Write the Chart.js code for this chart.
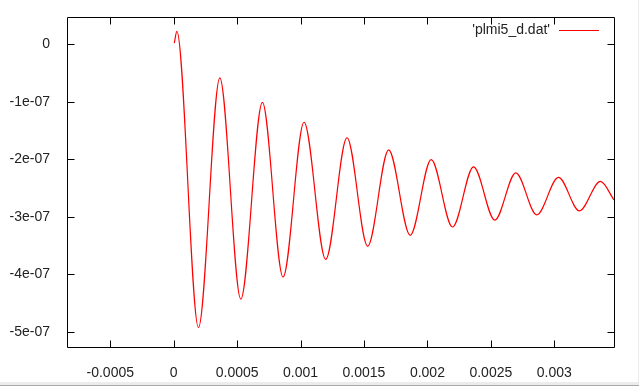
<!DOCTYPE html>
<html>
<head>
<meta charset="utf-8">
<script src="https://cdn.jsdelivr.net/npm/chart.js@4/dist/chart.umd.min.js"></script>
<style>
  html, body { margin: 0; padding: 0; background: #ececec; }
  #wrap { width: 638px; height: 382px; background: #fff; overflow: hidden; }
  #edge { width: 639px; height: 3px; background: #ececec; border-bottom: 1px solid #a9a9a9; }
  canvas { display: block; }
</style>
</head>
<body>
<div id="wrap"><canvas id="chart" width="638" height="383"></canvas></div>
<div id="edge"></div>
<script>
// extrema (time in s, value)
const xs = [0.000005, 0.000025, 0.0001953, 0.0003638, 0.0005291, 0.0006992, 0.0008622,
  0.0010276, 0.0011984, 0.0013661, 0.0015291, 0.0016945, 0.0018646, 0.0020299,
  0.0021984, 0.0023638, 0.0025315, 0.0026969, 0.0028622, 0.0030331, 0.0031984,
  0.0033638, 0.0034709];
const ys = [0.02e-7, 0.224e-7, -4.926e-7, -0.586e-7, -4.431e-7, -1.012e-7, -4.047e-7,
  -1.357e-7, -3.741e-7, -1.626e-7, -3.512e-7, -1.836e-7, -3.322e-7, -2.005e-7,
  -3.178e-7, -2.133e-7, -3.057e-7, -2.236e-7, -2.966e-7, -2.316e-7, -2.897e-7,
  -2.384e-7, -2.707e-7];

const xTickVals = [-0.0005, 0, 0.0005, 0.001, 0.0015, 0.002, 0.0025, 0.003];
const xTickLabels = ["-0.0005", "0", "0.0005", "0.001", "0.0015", "0.002", "0.0025", "0.003"];
const yTickVals = [0, -1e-7, -2e-7, -3e-7, -4e-7, -5e-7];
const yTickLabels = ["0", "-1e-07", "-2e-07", "-3e-07", "-4e-07", "-5e-07"];
const seriesName = "'plmi5_d.dat'";

const FONT = { family: "'Liberation Sans', Arial, sans-serif", size: 14 };

// gnuplot style frame with inward ticks on all four sides + key
const framePlugin = {
  id: "frame",
  afterDraw(chart) {
    const ctx = chart.ctx;
    const a = chart.chartArea;
    const sx = chart.scales.x, sy = chart.scales.y;
    const L = Math.round(a.left) + 0.5, R = Math.round(a.right) + 0.5;
    const T = Math.round(a.top) + 0.5, B = Math.round(a.bottom) + 0.5;
    ctx.save();
    ctx.strokeStyle = "#000";
    ctx.lineWidth = 1;
    ctx.beginPath();
    ctx.rect(L, T, R - L, B - T);
    xTickVals.forEach(v => {
      const px = Math.round(sx.getPixelForValue(v)) + 0.5;
      ctx.moveTo(px, B); ctx.lineTo(px, B - 7);
      ctx.moveTo(px, T); ctx.lineTo(px, T + 7);
    });
    yTickVals.forEach(v => {
      const py = Math.round(sy.getPixelForValue(v)) + 0.5;
      ctx.moveTo(L, py); ctx.lineTo(L + 7, py);
      ctx.moveTo(R, py); ctx.lineTo(R - 7, py);
    });
    ctx.stroke();

    // key
    ctx.font = FONT.size + "px " + FONT.family;
    ctx.fillStyle = "#222";
    ctx.textAlign = "right";
    ctx.textBaseline = "middle";
    ctx.fillText(seriesName, 550, 30);
    ctx.strokeStyle = "#ff0000";
    ctx.beginPath();
    ctx.moveTo(559, 30.5); ctx.lineTo(599, 30.5);
    ctx.stroke();
    ctx.restore();
  }
};

new Chart(document.getElementById("chart"), {
  type: "line",
  data: {
    datasets: [{
      label: seriesName,
      data: xs.map((x, i) => ({ x: x, y: ys[i] })),
      borderColor: "#ff0000",
      borderWidth: 1.2,
      pointRadius: 0,
      cubicInterpolationMode: "monotone",
      fill: false
    }]
  },
  options: {
    responsive: false,
    animation: false,
    devicePixelRatio: 1,
    layout: { padding: { left: 0, top: 15, right: 24, bottom: 0 } },
    plugins: { legend: { display: false }, tooltip: { enabled: false } },
    scales: {
      x: {
        type: "linear",
        min: -0.000841,
        max: 0.003471,
        grid: { display: false },
        border: { display: false },
        afterBuildTicks: s => { s.ticks = xTickVals.map(v => ({ value: v })); },
        afterFit: s => { s.height = 36; },
        ticks: {
          autoSkip: false,
          maxRotation: 0,
          padding: 10,
          color: "#222",
          font: FONT,
          callback: (v, i) => xTickLabels[i]
        }
      },
      y: {
        type: "linear",
        min: -5.264e-7,
        max: 0.466e-7,
        grid: { display: false },
        border: { display: false },
        afterBuildTicks: s => { s.ticks = yTickVals.map(v => ({ value: v })); },
        afterFit: s => { s.width = 67; },
        ticks: {
          autoSkip: false,
          padding: 9,
          color: "#222",
          font: FONT,
          callback: (v, i) => yTickLabels[i]
        }
      }
    }
  },
  plugins: [framePlugin]
});
</script>
</body>
</html>
